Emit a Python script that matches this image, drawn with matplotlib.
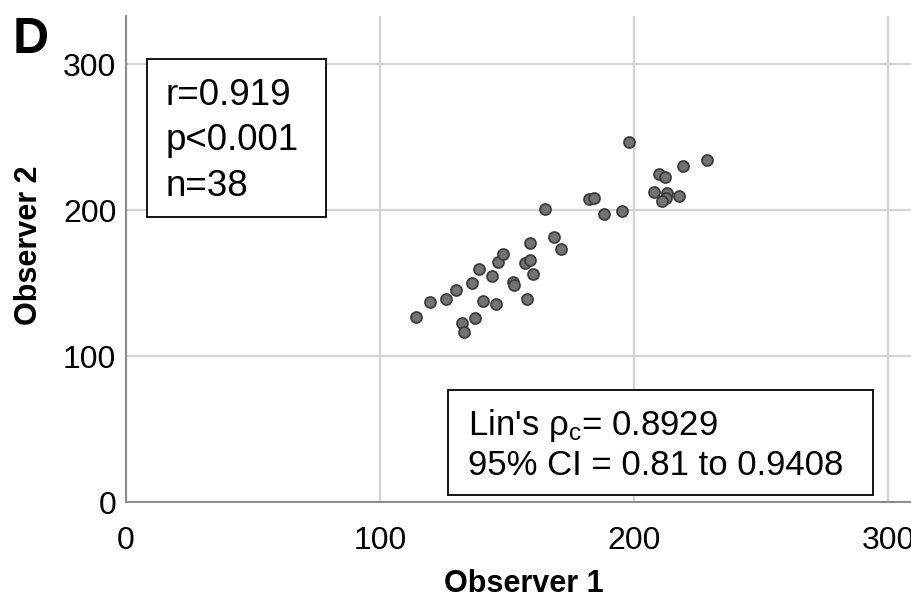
import matplotlib
matplotlib.use("Agg")
import matplotlib.pyplot as plt
from matplotlib.patches import Rectangle

plt.rcParams['font.family'] = ['Liberation Sans', 'DejaVu Sans']
plt.rcParams['mathtext.fontset'] = 'custom'
plt.rcParams['mathtext.rm'] = 'Liberation Sans'
plt.rcParams['mathtext.it'] = 'Liberation Sans:italic'

observer1 = [114.3, 119.6, 126.1, 129.9, 132.1, 133.2, 136.1, 137.2, 138.9, 140.6,
             143.9, 145.8, 146.6, 148.3, 152.5, 152.9, 156.9, 157.8, 159.0, 159.1,
             160.4, 164.8, 168.4, 171.1, 182.4, 184.3, 188.0, 195.1, 197.8, 208.0,
             209.9, 212.0, 213.0, 212.6, 211.0, 217.5, 219.4, 228.6]
observer2 = [126.7, 137.2, 139.0, 145.4, 122.6, 116.6, 150.2, 126.2, 159.4, 137.5,
             154.8, 135.6, 164.4, 170.1, 150.5, 148.8, 163.5, 139.0, 166.0, 177.2,
             156.4, 200.7, 181.5, 173.3, 207.7, 208.0, 197.3, 199.3, 246.4, 212.3,
             224.7, 222.6, 211.8, 208.4, 206.4, 209.4, 230.1, 234.0]
ticks = [0, 100, 200, 300]
stats_text = ["r=0.919", "p<0.001", "n=38"]
lin_text = ["Lin's ρ$_\\mathrm{c}$= 0.8929", "95% CI = 0.81 to 0.9408"]

W, H = 911, 600
fig = plt.figure(figsize=(W / 100, H / 100), dpi=100)

def fx(px):
    return px / W

def fy(py):
    return 1 - py / H

ax = fig.add_axes([fx(126), fy(502), fx(911) - fx(126), fy(16) - fy(502)])
ax.set_xlim(0, 309)
ax.set_ylim(0, 333)
ax.set_xticks(ticks)
ax.set_yticks(ticks)
ax.grid(True, color='#d4d4d4', linewidth=1.6)
ax.set_axisbelow(True)
for s in ['top', 'right']:
    ax.spines[s].set_visible(False)
for s in ['left', 'bottom']:
    ax.spines[s].set_color('#8c8c8c')
    ax.spines[s].set_linewidth(1.5)
ax.tick_params(axis='both', length=0, labelsize=23)
ax.tick_params(axis='x', pad=17)
ax.tick_params(axis='y', pad=7)

ax.scatter(observer1, observer2, s=62, facecolor='#737373', edgecolor='#3c3c3c',
           linewidth=1.3, zorder=3)

fig.text(fx(524), fy(584), 'Observer 1', fontsize=22, fontweight='bold',
         ha='center', va='center')
fig.text(fx(29), fy(245), 'Observer 2', fontsize=22, fontweight='bold',
         ha='center', va='center', rotation=90)

# Boxes
fig.patches.append(Rectangle((fx(147), fy(217)), fx(326) - fx(147), fy(59) - fy(217),
                             transform=fig.transFigure, facecolor='white',
                             edgecolor='black', linewidth=1.3, zorder=5))
for t, by in zip(stats_text, [105, 150, 196]):
    fig.text(fx(166), fy(by), t, fontsize=26.5, va='baseline', ha='left', zorder=6)

fig.patches.append(Rectangle((fx(448), fy(495)), fx(873) - fx(448), fy(390) - fy(495),
                             transform=fig.transFigure, facecolor='white',
                             edgecolor='black', linewidth=1.3, zorder=5))
for t, by in zip(lin_text, [435, 475]):
    fig.text(fx(468), fy(by), t, fontsize=25, va='baseline', ha='left', zorder=6)

fig.text(fx(13), fy(53), 'D', fontsize=36, fontweight='bold', va='baseline', ha='left')

fig.savefig('out.png', dpi=100)
